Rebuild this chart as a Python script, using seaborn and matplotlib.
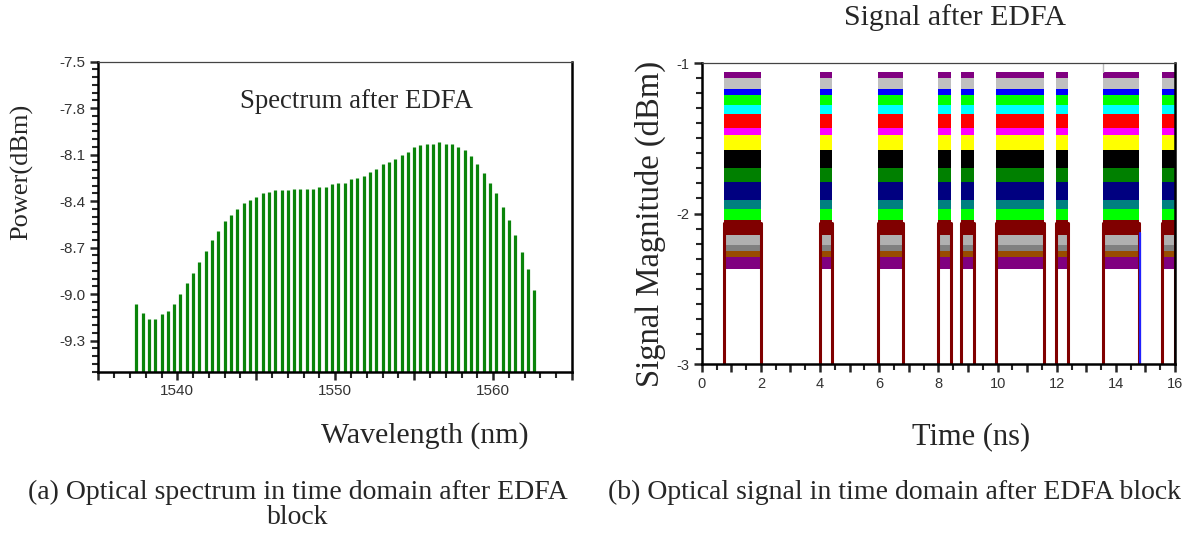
import matplotlib
matplotlib.use("Agg")
import matplotlib.pyplot as plt
import matplotlib.ticker as mticker
import pandas as pd
import seaborn as sns

# ---- (a) spectrum after EDFA: 64 channels, 0.4 nm grid ----
wavelength = [1537.4, 1537.8, 1538.2, 1538.6, 1539.0, 1539.4, 1539.8, 1540.2, 1540.6, 1541.0,
              1541.4, 1541.8, 1542.2, 1542.6, 1543.0, 1543.4, 1543.8, 1544.2, 1544.6, 1545.0,
              1545.4, 1545.8, 1546.2, 1546.6, 1547.0, 1547.4, 1547.8, 1548.2, 1548.6, 1549.0,
              1549.4, 1549.8, 1550.2, 1550.6, 1551.0, 1551.4, 1551.8, 1552.2, 1552.6, 1553.0,
              1553.4, 1553.8, 1554.2, 1554.6, 1555.0, 1555.4, 1555.8, 1556.2, 1556.6, 1557.0,
              1557.4, 1557.8, 1558.2, 1558.6, 1559.0, 1559.4, 1559.8, 1560.2, 1560.6, 1561.0,
              1561.4, 1561.8, 1562.2, 1562.6]
power = [-9.06, -9.12, -9.16, -9.16, -9.13, -9.11, -9.06, -9.00, -8.93, -8.86,
         -8.79, -8.72, -8.65, -8.59, -8.53, -8.49, -8.45, -8.41, -8.39, -8.37,
         -8.35, -8.34, -8.33, -8.33, -8.33, -8.32, -8.32, -8.32, -8.32, -8.31,
         -8.31, -8.29, -8.28, -8.28, -8.26, -8.25, -8.24, -8.21, -8.19, -8.16,
         -8.15, -8.13, -8.10, -8.08, -8.05, -8.04, -8.03, -8.03, -8.02, -8.03,
         -8.03, -8.05, -8.07, -8.11, -8.16, -8.22, -8.28, -8.35, -8.44, -8.52,
         -8.62, -8.73, -8.84, -8.97]
power_ticks = [-9.3, -9.0, -8.7, -8.4, -8.1, -7.8, -7.5]

# ---- (b) signal after EDFA: bursts (ns) and stacked channel levels (dBm) ----
burst_start = [0.75, 4.00, 5.97, 7.97, 8.78, 9.95, 11.97, 13.58, 15.55]
burst_end = [1.99, 4.41, 6.79, 8.42, 9.20, 11.58, 12.37, 14.77, 16.00]
band_levels = [-1.06, -1.10, -1.17, -1.21, -1.28, -1.34, -1.43, -1.48, -1.58, -1.70,
               -1.79, -1.91, -1.97, -2.04, -2.14, -2.21, -2.25, -2.29, -2.37]
band_colors = ["#800080", "#c0c0c0", "#0000ff", "#00ff00", "#00ffff", "#ff0000",
               "#ff00ff", "#ffff00", "#000000", "#008000", "#000080", "#008080",
               "#00ff00", "#800000", "#b0b0b0", "#808080", "#994c00", "#800080"]
edge_top = -2.06
blue_line_t = 14.82
blue_line_top = -2.13

serif = "Liberation Serif"
sans = "Liberation Sans"

sns.set_style("ticks")
plt.rcParams["font.family"] = [sans, "DejaVu Sans"]

fig = plt.figure(figsize=(11.92, 5.35), dpi=100)
ax1 = fig.add_axes([0.0825, 0.3052, 0.3974, 0.5795])
ax2 = fig.add_axes([0.5887, 0.3196, 0.3971, 0.5626])

# spectrum bars rising from the bottom of the plot
ymin1 = -9.5
spec = pd.DataFrame({"wl": wavelength, "p": power})
ax1.vlines(spec["wl"], ymin1, spec["p"], color="#0a840a", lw=2.3)
ax1.set_xlim(1535, 1565)
ax1.set_ylim(ymin1, -7.5)
ax1.xaxis.set_major_locator(mticker.MultipleLocator(5))
ax1.xaxis.set_minor_locator(mticker.MultipleLocator(1))
ax1.xaxis.set_major_formatter(mticker.FuncFormatter(
    lambda v, p: f"{v:.0f}" if round(v) % 10 == 0 else ""))
ax1.yaxis.set_major_locator(mticker.FixedLocator(power_ticks))
ax1.yaxis.set_major_formatter(mticker.FormatStrFormatter("%.1f"))
ax1.yaxis.set_minor_locator(mticker.MultipleLocator(0.05))

# signal bursts: one flat band per channel, no antialiasing so bands tile cleanly
for t0, t1 in zip(burst_start, burst_end):
    for k, c in enumerate(band_colors):
        ax2.fill_between([t0, t1], band_levels[k + 1], band_levels[k],
                         color=c, lw=0, antialiased=False)

# burst edges (maroon) drawn with seaborn, one call per edge
rows = []
for i, (t0, t1) in enumerate(zip(burst_start, burst_end)):
    for j, t in enumerate((t0, t1)):
        rows += [(t, -3.0, 2 * i + j), (t, edge_top, 2 * i + j)]
edges = pd.DataFrame(rows, columns=["t", "level", "edge"])
for _, e in edges.groupby("edge"):
    sns.lineplot(data=e, x="t", y="level", estimator=None, sort=False,
                 color="#800000", lw=2.2, ax=ax2, legend=False)
ax2.plot([blue_line_t, blue_line_t], [-3.0, blue_line_top], color="#2020ff", lw=1.6)
ax2.plot([burst_start[7], burst_start[7]], [-1.0, band_levels[0]], color="#bbbbbb", lw=1)

ax2.set_xlim(0, 16)
ax2.set_ylim(-3, -1)
ax2.xaxis.set_major_locator(mticker.MultipleLocator(1))
ax2.xaxis.set_minor_locator(mticker.MultipleLocator(0.5))
ax2.xaxis.set_major_formatter(mticker.FuncFormatter(
    lambda v, p: f"{v:.0f}" if round(v) % 2 == 0 else ""))
ax2.yaxis.set_major_locator(mticker.MultipleLocator(1))
ax2.yaxis.set_minor_locator(mticker.MultipleLocator(0.1))
ax2.yaxis.set_major_formatter(mticker.FormatStrFormatter("%.0f"))
ax2.set_xlabel("")
ax2.set_ylabel("")

for ax, fs in ((ax1, 11), (ax2, 10.5)):
    for side in ("left", "bottom", "right"):
        ax.spines[side].set_linewidth(1.8)
        ax.spines[side].set_color("black")
    ax.spines["top"].set_linewidth(0.9)
    ax.spines["top"].set_color("#444444")
    ax.tick_params(which="major", direction="out", length=6, width=1.8,
                   labelsize=fs, labelcolor="#333333", pad=3)
    ax.tick_params(which="minor", direction="out", length=4, width=1.5)

# labels and captions, placed in figure pixels
W, H = 1192, 535
def ftext(x, y, s, **kw):
    fig.text(x / W, 1 - y / H, s, ha="center", va="center", family=serif, **kw)

ftext(356, 101, "Spectrum after EDFA", fontsize=19.3)
ftext(22, 172, "Power(dBm)", fontsize=19, rotation=90)
ftext(425, 436, "Wavelength (nm)", fontsize=21.5)
ftext(650, 224, "Signal Magnitude (dBm)", fontsize=23.5, rotation=90)
ftext(971, 437, "Time (ns)", fontsize=22)
ftext(955, 18, "Signal after EDFA", fontsize=21.5)
ftext(298, 492, "(a) Optical spectrum in time domain after EDFA", fontsize=20)
ftext(298, 518, "block", fontsize=20)
ftext(895, 492, "(b) Optical signal in time domain after EDFA block", fontsize=20)

fig.savefig("out.png", dpi=100)
